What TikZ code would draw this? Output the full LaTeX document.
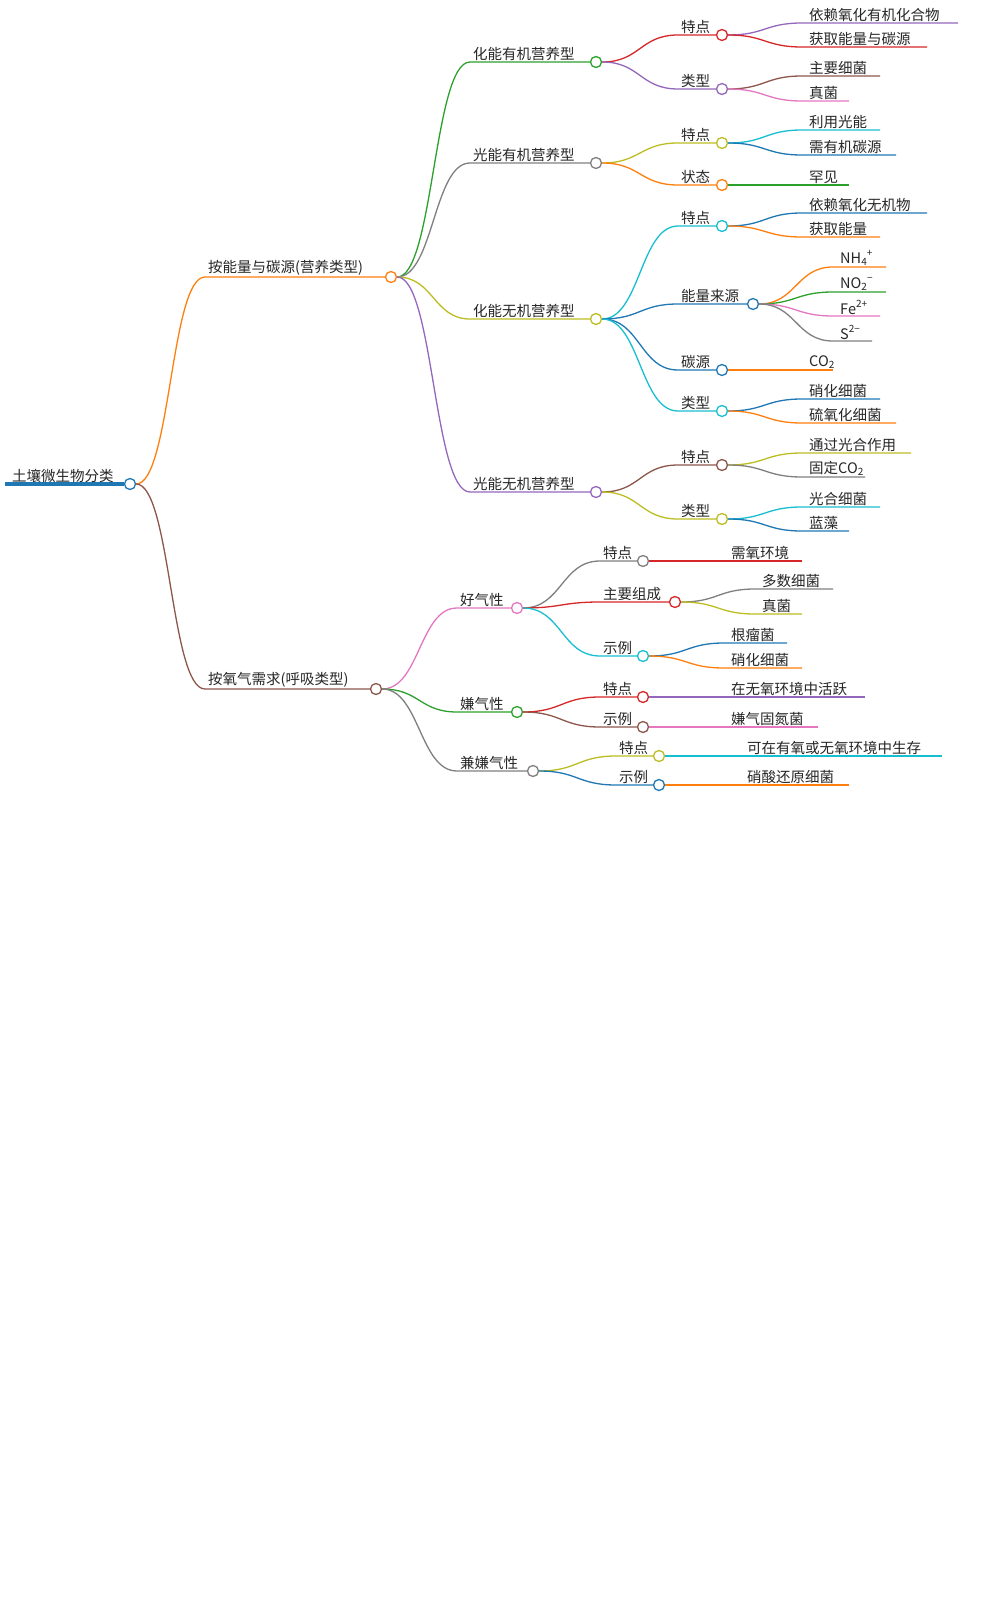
\documentclass[tikz,border=0pt]{standalone}
\usepackage{fontspec}
\setmainfont{Noto Sans CJK SC}
\usetikzlibrary{calc}
\definecolor{cblue}{HTML}{1F77B4}
\definecolor{corange}{HTML}{FF7F0E}
\definecolor{cgreen}{HTML}{2CA02C}
\definecolor{cred}{HTML}{D62728}
\definecolor{cpurple}{HTML}{9467BD}
\definecolor{cbrown}{HTML}{8C564B}
\definecolor{cpink}{HTML}{E377C2}
\definecolor{cgray}{HTML}{7F7F7F}
\definecolor{colive}{HTML}{BCBD22}
\definecolor{ccyan}{HTML}{17BECF}
\newcommand\sbs[1]{\raisebox{-0.25ex}{\fontsize{10}{10}\selectfont #1}}
\newcommand\sps[1]{\raisebox{0.9ex}{\fontsize{10}{10}\selectfont #1}}
\newcounter{leafc}
\tikzset{
 edge/.style={line width=1.3pt},
 dot/.style={circle,fill=white,line width=1.3pt,minimum size=11pt,inner sep=0pt},
 lbl/.style={anchor=south west,inner sep=1pt,text=black!85,font=\fontsize{14.5}{16}\selectfont}
}
\newcommand\mmmid[7]{%
 \node[dot,draw=#6] (#2) at (#5,#4) {};
 \draw[#6,edge] let \p1=(#1.east) in (\p1) .. controls ({0.5*\x1+0.5*#3pt},\y1) and ({0.5*\x1+0.5*#3pt},{-#4pt}) .. (#3,#4) -- (#2.west);
 \node[lbl] (#2t) at (#3+2,#4) {#7};
}
\newcommand\mmleaf[6]{%
 \stepcounter{leafc}%
 \coordinate (le\theleafc) at (#4,#3);
 \draw[#5,edge] let \p1=(#1.east) in (\p1) .. controls ({0.5*\x1+0.5*#2pt},\y1) and ({0.5*\x1+0.5*#2pt},{-#3pt}) .. (#2,#3) -- (le\theleafc);
 \node[lbl] (lt\theleafc) at (#2+6,#3) {#6};
}
\begin{document}
\begin{tikzpicture}[x=1pt,y=-1pt]
\useasboundingbox (0,0) rectangle (987,1605);
\node[dot,draw=cblue] (root) at (130,484) {};
\draw[cblue,line width=3.5pt] (5,484) -- (root.west);
\node[lbl] (roott) at (11,484) {土壤微生物分类};
% level 1
\mmmid{root}{A}{205}{277}{391}{corange}{按能量与碳源(营养类型)}
\mmmid{root}{B}{205}{689}{376}{cbrown}{按氧气需求(呼吸类型)}
% A
\mmmid{A}{A1}{470}{62}{596}{cgreen}{化能有机营养型}
\mmmid{A}{A2}{470}{163}{596}{cgray}{光能有机营养型}
\mmmid{A}{A3}{470}{319}{596}{colive}{化能无机营养型}
\mmmid{A}{A4}{470}{492}{596}{cpurple}{光能无机营养型}
% A1
\mmmid{A1}{A11}{678}{35}{722}{cred}{特点}
\mmleaf{A11}{802}{23}{958}{cpurple}{依赖氧化有机化合物}
\mmleaf{A11}{802}{47}{927}{cred}{获取能量与碳源}
\mmmid{A1}{A12}{678}{89}{722}{cpurple}{类型}
\mmleaf{A12}{802}{76}{880}{cbrown}{主要细菌}
\mmleaf{A12}{802}{101}{849}{cpink}{真菌}
% A2
\mmmid{A2}{A21}{678}{143}{722}{colive}{特点}
\mmleaf{A21}{802}{130}{880}{ccyan}{利用光能}
\mmleaf{A21}{802}{155}{896}{cblue}{需有机碳源}
\mmmid{A2}{A22}{678}{185}{722}{corange}{状态}
\mmleaf{A22}{802}{185}{849}{cgreen}{罕见}
% A3
\mmmid{A3}{A31}{678}{226}{722}{ccyan}{特点}
\mmleaf{A31}{802}{213}{927}{cblue}{依赖氧化无机物}
\mmleaf{A31}{802}{237}{880}{corange}{获取能量}
\mmmid{A3}{A32}{678}{304}{753}{cblue}{能量来源}
\mmleaf{A32}{833}{267}{886}{corange}{NH\sbs{4}\sps{+}}
\mmleaf{A32}{833}{292}{886}{cgreen}{NO\sbs{2}\sps{−}}
\mmleaf{A32}{833}{316}{880}{cpink}{Fe\sps{2+}}
\mmleaf{A32}{833}{341}{872}{cgray}{S\sps{2−}}
\mmmid{A3}{A33}{678}{370}{722}{cblue}{碳源}
\mmleaf{A33}{802}{370}{833}{corange}{CO\sbs{2}}
\mmmid{A3}{A34}{678}{411}{722}{ccyan}{类型}
\mmleaf{A34}{802}{399}{880}{cblue}{硝化细菌}
\mmleaf{A34}{802}{423}{896}{corange}{硫氧化细菌}
% A4
\mmmid{A4}{A41}{678}{465}{722}{cbrown}{特点}
\mmleaf{A41}{802}{453}{911}{colive}{通过光合作用}
\mmleaf{A41}{802}{477}{865}{cgray}{固定CO\sbs{2}}
\mmmid{A4}{A42}{678}{519}{722}{colive}{类型}
\mmleaf{A42}{802}{507}{880}{ccyan}{光合细菌}
\mmleaf{A42}{802}{531}{849}{cblue}{蓝藻}
% B
\mmmid{B}{B1}{457}{608}{517}{cpink}{好气性}
\mmmid{B}{B2}{457}{712}{517}{cgreen}{嫌气性}
\mmmid{B}{B3}{457}{771}{533}{cgray}{兼嫌气性}
\mmmid{B1}{B11}{600}{561}{643}{cgray}{特点}
\mmleaf{B11}{724}{561}{802}{cred}{需氧环境}
\mmmid{B1}{B12}{600}{602}{675}{cred}{主要组成}
\mmleaf{B12}{755}{589}{833}{cgray}{多数细菌}
\mmleaf{B12}{755}{614}{802}{colive}{真菌}
\mmmid{B1}{B13}{600}{656}{643}{ccyan}{示例}
\mmleaf{B13}{724}{643}{787}{cblue}{根瘤菌}
\mmleaf{B13}{724}{668}{802}{corange}{硝化细菌}
\mmmid{B2}{B21}{600}{697}{643}{cred}{特点}
\mmleaf{B21}{724}{697}{865}{cpurple}{在无氧环境中活跃}
\mmmid{B2}{B22}{600}{727}{643}{cbrown}{示例}
\mmleaf{B22}{724}{727}{818}{cpink}{嫌气固氮菌}
\mmmid{B3}{B31}{616}{756}{659}{colive}{特点}
\mmleaf{B31}{740}{756}{942}{ccyan}{可在有氧或无氧环境中生存}
\mmmid{B3}{B32}{616}{785}{659}{cblue}{示例}
\mmleaf{B32}{740}{785}{849}{corange}{硝酸还原细菌}
\end{tikzpicture}
\end{document}
